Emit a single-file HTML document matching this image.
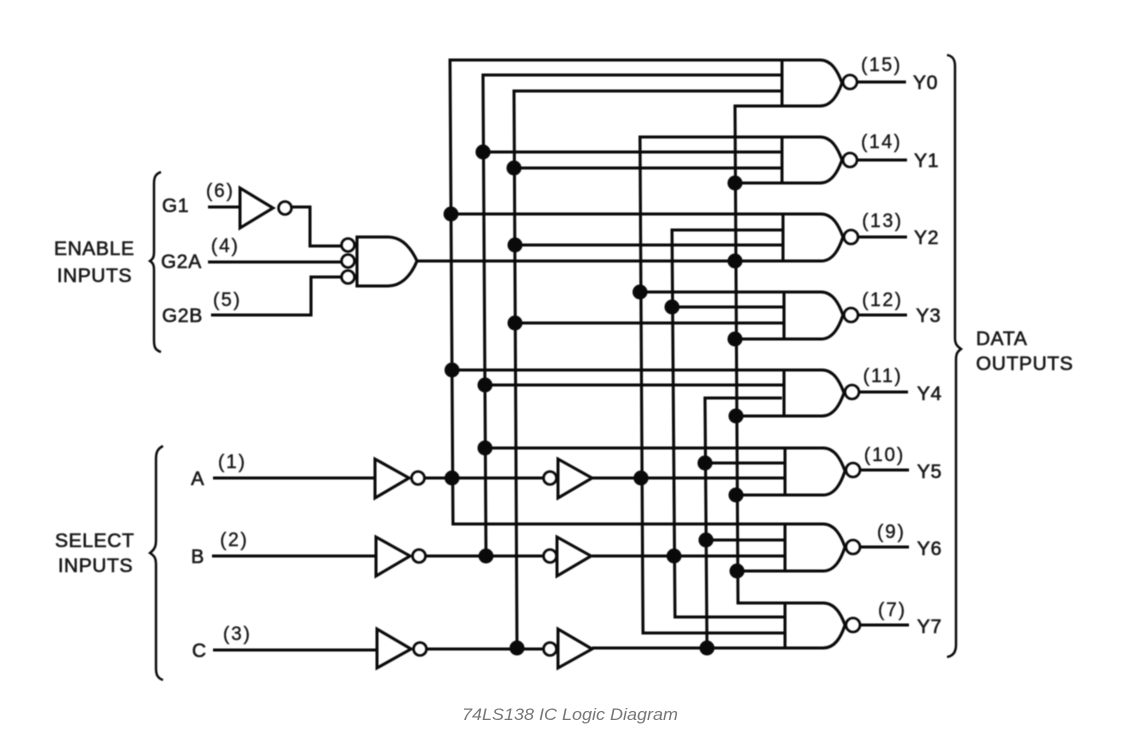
<!DOCTYPE html>
<html>
<head>
<meta charset="utf-8">
<style>
html,body{margin:0;padding:0;background:#fff;width:1136px;height:747px;overflow:hidden}
svg{display:block}
text{font-family:"Liberation Sans",sans-serif;fill:#1a1a1a}
.l{font-size:19.5px;letter-spacing:.6px;stroke:#1a1a1a;stroke-width:.6}
.n{font-size:19px;letter-spacing:1.8px;stroke:#1a1a1a;stroke-width:.4}
.w{fill:none;stroke:#0a0a0a;stroke-width:3}
.g{fill:#fff;stroke:#0a0a0a;stroke-width:3}
.b{fill:#fff;stroke:#0a0a0a;stroke-width:2.6}
.d{fill:#0a0a0a}
.s{filter:blur(.4px)}
</style>
</head>
<body>
<svg width="1136" height="747" viewBox="0 0 1136 747" xmlns="http://www.w3.org/2000/svg">
<rect width="1136" height="747" fill="#fff"/>
<g class="s">
<!-- long wires -->
<path class="w" d="M782 60H450L453 524H784"/>
<path class="w" d="M782 75H483L486 556"/>
<path class="w" d="M782 91H514L517 648"/>
<path class="w" d="M782 137H640L643 633H785"/>
<path class="w" d="M782 230H672L675 617H785"/>
<path class="w" d="M782 398H705L707 648"/>
<path class="w" d="M782 106H735L738 603H785"/>

<path class="w" d="M483 152H782"/>
<path class="w" d="M514 168H782"/>
<path class="w" d="M735 183H782"/>
<path class="w" d="M451 214H782"/>
<path class="w" d="M515 245H782"/>
<path class="w" d="M417 261H783"/>
<path class="w" d="M640 292H783"/>
<path class="w" d="M672 307H783"/>
<path class="w" d="M515 323H783"/>
<path class="w" d="M735 339H783"/>
<path class="w" d="M452 370H783"/>
<path class="w" d="M485 385H783"/>
<path class="w" d="M736 416H783"/>
<path class="w" d="M485 448H785"/>
<path class="w" d="M705 463H785"/>
<path class="w" d="M592 478H785"/>
<path class="w" d="M737 495H785"/>
<path class="w" d="M706 540H785"/>
<path class="w" d="M592 556H785"/>
<path class="w" d="M737 571H785"/>
<path class="w" d="M592 648H785"/>

<!-- input wires -->
<path class="w" d="M213 478H376M425 478H544"/>
<path class="w" d="M212 556H377M426 556H544"/>
<path class="w" d="M213 650H378M427 649H544"/>
<path class="w" d="M208 207H239M291 207H310V246H342"/>
<path class="w" d="M208 262H342"/>
<path class="w" d="M211 315H311V277H342"/>

<!-- dots -->
<g class="d">
<circle cx="483" cy="152" r="7.5"/><circle cx="514" cy="168" r="7.5"/>
<circle cx="735" cy="183" r="7.5"/><circle cx="451" cy="214" r="7.5"/>
<circle cx="515" cy="245" r="7.5"/><circle cx="735" cy="261" r="7.5"/>
<circle cx="640" cy="292" r="7.5"/><circle cx="672" cy="307" r="7.5"/>
<circle cx="515" cy="323" r="7.5"/><circle cx="735" cy="339" r="7.5"/>
<circle cx="452" cy="370" r="7.5"/><circle cx="485" cy="385" r="7.5"/>
<circle cx="736" cy="416" r="7.5"/><circle cx="485" cy="448" r="7.5"/>
<circle cx="705" cy="463" r="7.5"/><circle cx="641" cy="478" r="7.5"/>
<circle cx="452" cy="478" r="7.5"/><circle cx="736" cy="495" r="7.5"/>
<circle cx="706" cy="540" r="7.5"/><circle cx="486" cy="556" r="7.5"/>
<circle cx="674" cy="556" r="7.5"/><circle cx="737" cy="571" r="7.5"/>
<circle cx="517" cy="648" r="7.5"/><circle cx="707" cy="648" r="7.5"/>
</g>

<!-- NAND gates -->
<g class="g">
<path d="M782 60H820C832 60 838 72 842 83C838 94 832 106 820 106H782Z"/>
<path d="M782 137H820C832 137 838 149 842 160C838 171 832 183 820 183H782Z"/>
<path d="M783 214H821C833 214 839 226 843 237C839 249 833 261 821 261H783Z"/>
<path d="M784 292H821C833 292 839 304 843 315C839 327 833 339 821 339H784Z"/>
<path d="M784 370H822C834 370 840 382 844 393C840 404 834 416 822 416H784Z"/>
<path d="M785 448H823C835 448 841 460 845 471C841 483 835 495 823 495H785Z"/>
<path d="M785 524H823C835 524 841 536 845 547C841 559 835 571 823 571H785Z"/>
<path d="M785 603H823C835 603 841 614 845 625C841 637 835 648 823 648H785Z"/>
</g>
<g class="w">
<path d="M857 82H906M858 160H907M858 237H907M859 315H907M860 392H908M860 470H909M860 547H909M860 625H909"/>
</g>
<g class="b">
<circle cx="850" cy="82" r="7"/><circle cx="850" cy="160" r="7"/>
<circle cx="851" cy="237" r="7"/><circle cx="851" cy="315" r="7"/>
<circle cx="852" cy="392" r="7"/><circle cx="853" cy="470" r="7"/>
<circle cx="853" cy="547" r="7"/><circle cx="853" cy="625" r="7"/>
</g>

<!-- Enable gate -->
<path class="g" d="M357 237H388C403 237 412 250 417 261C412 273 403 286 388 286H357Z"/>
<g class="b">
<circle cx="348" cy="245" r="6.5"/><circle cx="348" cy="261" r="6.5"/><circle cx="348" cy="277" r="6.5"/>
<circle cx="285" cy="208" r="6.5"/>
<circle cx="418" cy="478" r="6.5"/><circle cx="419" cy="556" r="6.5"/><circle cx="420" cy="649" r="6.5"/>
<circle cx="550" cy="478" r="6.5"/><circle cx="550" cy="556" r="6.5"/><circle cx="550" cy="649" r="6.5"/>
</g>

<!-- Inverters -->
<g class="g">
<path d="M240 188L273 208L240 228Z"/>
<path d="M375 459L409 478L375 498Z"/>
<path d="M376 537L410 556L376 576Z"/>
<path d="M377 629L411 649L377 668Z"/>
<path d="M558 459L592 478L558 498Z"/>
<path d="M557 537L591 556L557 576Z"/>
<path d="M558 629L592 649L558 668Z"/>
</g>

<!-- Braces -->
<g fill="none" stroke="#0a0a0a" stroke-width="2.4">
<path d="M161 172C155 174 154 178 154 184V252C154 257 153 259 150 261C153 263 154 265 154 270V340C154 347 155 350 161 352"/>
<path d="M163 446C157 449 156 453 156 459V540C156 546 155 549 150 553C155 556 156 559 156 565V668C156 674 157 678 163 680"/>
<path d="M947 55C953 56 955 60 955 66V338C955 344 957 346 961 349C957 352 956 354 956 360V645C956 652 953 656 947 657"/>
</g>

<!-- Labels -->
<text class="l" x="54" y="255">ENABLE</text>
<text class="l" x="57" y="282">INPUTS</text>
<text class="l" x="55" y="547">SELECT</text>
<text class="l" x="58" y="572">INPUTS</text>
<text class="l" x="976" y="345">DATA</text>
<text class="l" x="976" y="370">OUTPUTS</text>

<text class="l" x="162" y="212">G1</text>
<text class="l" x="161" y="268">G2A</text>
<text class="l" x="162" y="322">G2B</text>
<text class="l" x="191" y="485">A</text>
<text class="l" x="191" y="563">B</text>
<text class="l" x="192" y="657">C</text>

<text class="n" x="206" y="197">(6)</text>
<text class="n" x="211" y="252">(4)</text>
<text class="n" x="213" y="306">(5)</text>
<text class="n" x="218" y="468">(1)</text>
<text class="n" x="220" y="546">(2)</text>
<text class="n" x="223" y="640">(3)</text>

<text class="n" x="861" y="71">(15)</text>
<text class="n" x="861" y="148">(14)</text>
<text class="n" x="862" y="227">(13)</text>
<text class="n" x="862" y="306">(12)</text>
<text class="n" x="863" y="382">(11)</text>
<text class="n" x="864" y="461">(10)</text>
<text class="n" x="877" y="538">(9)</text>
<text class="n" x="878" y="616">(7)</text>

<text class="l" x="913" y="89">Y0</text>
<text class="l" x="914" y="167">Y1</text>
<text class="l" x="914" y="244">Y2</text>
<text class="l" x="916" y="322">Y3</text>
<text class="l" x="917" y="400">Y4</text>
<text class="l" x="917" y="478">Y5</text>
<text class="l" x="917" y="555">Y6</text>
<text class="l" x="917" y="633">Y7</text>
</g>
<text x="462" y="720" font-size="17" font-style="italic" style="fill:#777" textLength="216" lengthAdjust="spacingAndGlyphs">74LS138 IC Logic Diagram</text>
</svg>
</body>
</html>
